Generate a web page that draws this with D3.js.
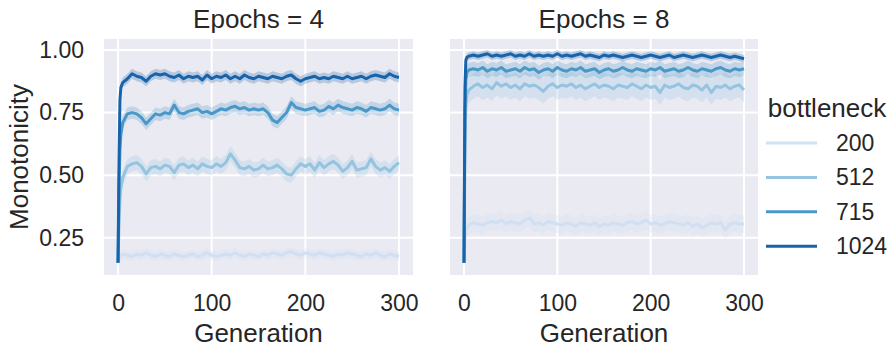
<!DOCTYPE html>
<html>
<head>
<meta charset="utf-8">
<script src="https://cdn.jsdelivr.net/npm/d3@7"></script>
<style>
  body { margin: 0; background: #fff; }
  svg { display: block; font-family: "Liberation Sans", Arial, sans-serif; }
</style>
</head>
<body>
<svg id="chart" width="893" height="349"></svg>
<script>
// values (mean monotonicity per generation)
const generations = [0, 1, 2, 3,
  5, 10, 15, 20, 25, 30, 35, 40, 45, 50,
  55, 60, 65, 70, 75, 80, 85, 90, 95, 100,
  105, 110, 115, 120, 125, 130, 135, 140, 145, 150,
  155, 160, 165, 170, 175, 180, 185, 190, 195, 200,
  205, 210, 215, 220, 225, 230, 235, 240, 245, 250,
  255, 260, 265, 270, 275, 280, 285, 290, 295, 300];

const bottlenecks = ["200", "512", "715", "1024"];
const colors = ["#d0e1f2", "#94c4df", "#4a98c9", "#1764ab"];

const epochs4_200 = [0.15, 0.17, 0.175, 0.18,
  0.185, 0.18, 0.175, 0.185, 0.18, 0.19, 0.18, 0.175, 0.185, 0.18,
  0.175, 0.185, 0.18, 0.175, 0.18, 0.185, 0.175, 0.18, 0.19, 0.18,
  0.175, 0.18, 0.185, 0.18, 0.19, 0.18, 0.175, 0.185, 0.18, 0.175,
  0.185, 0.18, 0.19, 0.185, 0.18, 0.19, 0.195, 0.185, 0.18, 0.19,
  0.185, 0.18, 0.19, 0.185, 0.18, 0.175, 0.185, 0.18, 0.19, 0.185,
  0.18, 0.175, 0.185, 0.18, 0.19, 0.18, 0.175, 0.185, 0.18, 0.175];
const epochs4_512 = [0.15, 0.30, 0.40, 0.45,
  0.49, 0.535, 0.545, 0.55, 0.535, 0.505, 0.53, 0.535, 0.525, 0.54,
  0.535, 0.51, 0.54, 0.545, 0.53, 0.54, 0.525, 0.545, 0.535, 0.53,
  0.545, 0.535, 0.55, 0.585, 0.56, 0.53, 0.525, 0.535, 0.52, 0.525,
  0.54, 0.525, 0.53, 0.54, 0.525, 0.505, 0.50, 0.525, 0.545, 0.535,
  0.545, 0.52, 0.55, 0.53, 0.545, 0.555, 0.54, 0.515, 0.53, 0.555,
  0.52, 0.525, 0.53, 0.565, 0.535, 0.52, 0.53, 0.515, 0.535, 0.55];
const epochs4_715 = [0.15, 0.45, 0.60, 0.66,
  0.71, 0.745, 0.75, 0.745, 0.73, 0.705, 0.725, 0.745, 0.74, 0.75,
  0.745, 0.78, 0.75, 0.745, 0.755, 0.76, 0.765, 0.75, 0.755, 0.745,
  0.755, 0.765, 0.76, 0.77, 0.775, 0.765, 0.77, 0.76, 0.765, 0.76,
  0.765, 0.75, 0.72, 0.71, 0.73, 0.75, 0.79, 0.77, 0.765, 0.76,
  0.765, 0.77, 0.755, 0.76, 0.775, 0.765, 0.78, 0.77, 0.765, 0.76,
  0.77, 0.765, 0.755, 0.77, 0.765, 0.76, 0.765, 0.78, 0.765, 0.76];
const epochs4_1024 = [0.15, 0.55, 0.80, 0.85,
  0.87, 0.885, 0.905, 0.895, 0.89, 0.875, 0.895, 0.905, 0.90, 0.905,
  0.895, 0.89, 0.90, 0.885, 0.895, 0.89, 0.895, 0.88, 0.90, 0.885,
  0.895, 0.89, 0.90, 0.885, 0.895, 0.885, 0.90, 0.89, 0.885, 0.895,
  0.89, 0.885, 0.895, 0.89, 0.885, 0.895, 0.90, 0.885, 0.875, 0.885,
  0.89, 0.895, 0.885, 0.89, 0.885, 0.895, 0.89, 0.885, 0.895, 0.885,
  0.89, 0.895, 0.885, 0.895, 0.90, 0.895, 0.89, 0.905, 0.895, 0.89];

const epochs8_200 = [0.15, 0.25, 0.28, 0.29,
  0.30, 0.31, 0.305, 0.30, 0.31, 0.315, 0.31, 0.32, 0.305, 0.315,
  0.31, 0.305, 0.32, 0.33, 0.305, 0.31, 0.30, 0.315, 0.31, 0.305,
  0.30, 0.31, 0.305, 0.295, 0.31, 0.305, 0.30, 0.31, 0.295, 0.305,
  0.30, 0.31, 0.305, 0.30, 0.31, 0.315, 0.305, 0.31, 0.32, 0.305,
  0.31, 0.30, 0.305, 0.315, 0.31, 0.305, 0.30, 0.31, 0.295, 0.305,
  0.29, 0.30, 0.31, 0.305, 0.31, 0.28, 0.305, 0.31, 0.305, 0.305];
const epochs8_512 = [0.15, 0.62, 0.78, 0.82,
  0.84, 0.855, 0.865, 0.85, 0.86, 0.845, 0.87, 0.855, 0.865, 0.85,
  0.86, 0.845, 0.865, 0.855, 0.86, 0.85, 0.835, 0.855, 0.865, 0.85,
  0.86, 0.855, 0.865, 0.85, 0.86, 0.845, 0.855, 0.865, 0.85, 0.86,
  0.855, 0.845, 0.86, 0.855, 0.85, 0.865, 0.855, 0.845, 0.86, 0.85,
  0.855, 0.83, 0.86, 0.85, 0.855, 0.865, 0.85, 0.845, 0.86, 0.855,
  0.84, 0.86, 0.83, 0.855, 0.85, 0.86, 0.845, 0.855, 0.86, 0.84];
const epochs8_715 = [0.15, 0.75, 0.88, 0.91,
  0.92, 0.925, 0.92, 0.93, 0.915, 0.925, 0.92, 0.93, 0.915, 0.92,
  0.925, 0.915, 0.93, 0.92, 0.925, 0.91, 0.92, 0.925, 0.915, 0.93,
  0.92, 0.915, 0.925, 0.92, 0.93, 0.915, 0.92, 0.925, 0.91, 0.92,
  0.925, 0.915, 0.92, 0.93, 0.92, 0.915, 0.925, 0.92, 0.915, 0.925,
  0.92, 0.93, 0.915, 0.92, 0.925, 0.915, 0.92, 0.93, 0.92, 0.915,
  0.925, 0.92, 0.915, 0.925, 0.93, 0.92, 0.915, 0.925, 0.92, 0.925];
const epochs8_1024 = [0.15, 0.85, 0.96, 0.97,
  0.975, 0.98, 0.975, 0.98, 0.985, 0.975, 0.98, 0.975, 0.98, 0.985,
  0.975, 0.98, 0.975, 0.985, 0.975, 0.98, 0.975, 0.98, 0.975, 0.985,
  0.975, 0.98, 0.975, 0.98, 0.985, 0.975, 0.98, 0.975, 0.97, 0.98,
  0.975, 0.98, 0.975, 0.97, 0.975, 0.98, 0.975, 0.97, 0.975, 0.98,
  0.975, 0.97, 0.975, 0.98, 0.97, 0.975, 0.98, 0.975, 0.97, 0.975,
  0.98, 0.975, 0.97, 0.975, 0.98, 0.975, 0.97, 0.975, 0.97, 0.965];

// half width of the confidence band, per bottleneck
const epochs4_ci = [0.018, 0.03, 0.025, 0.02];
const epochs8_ci = [0.035, 0.05, 0.028, 0.015];

const xTicks = [0, 100, 200, 300];
const yTicks = [0.25, 0.5, 0.75, 1.0];

const panels = [
  { title: "Epochs = 4", series: [epochs4_200, epochs4_512, epochs4_715, epochs4_1024], ci: epochs4_ci, x0: 104, x1: 413, labels: true },
  { title: "Epochs = 8", series: [epochs8_200, epochs8_512, epochs8_715, epochs8_1024], ci: epochs8_ci, x0: 450, x1: 758, labels: false },
];

const textColor = "#262626";
const plotTop = 39, plotBottom = 275;

const svg = d3.select("svg#chart");

const y = d3.scaleLinear().domain([0.101, 1.044]).range([plotBottom, plotTop]);

for (const p of panels) {
  const x = d3.scaleLinear().domain([-15, 315]).range([p.x0, p.x1]);
  const g = svg.append("g");

  g.append("rect")
    .attr("x", p.x0).attr("y", plotTop)
    .attr("width", p.x1 - p.x0).attr("height", plotBottom - plotTop)
    .attr("fill", "#eaeaf2");

  // grid
  g.append("g").selectAll("line").data(yTicks).join("line")
    .attr("x1", p.x0).attr("x2", p.x1)
    .attr("y1", (d) => y(d)).attr("y2", (d) => y(d))
    .attr("stroke", "#fff").attr("stroke-width", 2);
  g.append("g").selectAll("line").data(xTicks).join("line")
    .attr("y1", plotTop).attr("y2", plotBottom)
    .attr("x1", (d) => x(d)).attr("x2", (d) => x(d))
    .attr("stroke", "#fff").attr("stroke-width", 2);

  // lines then bands, in hue order like seaborn
  p.series.forEach((vals, i) => {
    const pts = generations.map((gen, j) => ({ gen, v: vals[j] }));
    const ci = p.ci[i];
    g.append("path")
      .datum(pts)
      .attr("fill", "none")
      .attr("stroke", colors[i])
      .attr("stroke-width", 3)
      .attr("stroke-linejoin", "round")
      .attr("d", d3.line().x((d) => x(d.gen)).y((d) => y(d.v)));
    g.append("path")
      .datum(pts.slice(1))
      .attr("fill", colors[i])
      .attr("fill-opacity", 0.25)
      .attr("d", d3.area().x((d) => x(d.gen)).y0((d) => y(d.v - ci)).y1((d) => y(d.v + ci)));
  });

  // axes
  const xAxis = g.append("g")
    .attr("transform", `translate(0, ${plotBottom})`)
    .call(d3.axisBottom(x).tickValues(xTicks).tickSize(0).tickPadding(20));
  xAxis.select(".domain").remove();
  xAxis.selectAll("text").attr("font-size", 23).attr("fill", textColor);

  if (p.labels) {
    const yAxis = g.append("g")
      .attr("transform", `translate(${p.x0}, 0)`)
      .call(d3.axisLeft(y).tickValues(yTicks).tickFormat(d3.format(".2f")).tickSize(0).tickPadding(20));
    yAxis.select(".domain").remove();
    yAxis.selectAll("text").attr("font-size", 23).attr("fill", textColor);
  }

  g.append("text")
    .attr("x", (p.x0 + p.x1) / 2).attr("y", 28)
    .attr("text-anchor", "middle")
    .attr("font-size", 26).attr("fill", textColor)
    .text(p.title);

  g.append("text")
    .attr("x", (p.x0 + p.x1) / 2).attr("y", 342)
    .attr("text-anchor", "middle")
    .attr("font-size", 26).attr("fill", textColor)
    .text("Generation");
}

svg.append("text")
  .attr("transform", `translate(28, ${(plotTop + plotBottom) / 2}) rotate(-90)`)
  .attr("text-anchor", "middle")
  .attr("font-size", 26).attr("fill", textColor)
  .text("Monotonicity");

// legend
const legend = svg.append("g");
legend.append("text")
  .attr("x", 827).attr("y", 117)
  .attr("text-anchor", "middle")
  .attr("font-size", 26).attr("fill", textColor)
  .text("bottleneck");
const rows = legend.selectAll("g.row").data(bottlenecks).join("g")
  .attr("class", "row")
  .attr("transform", (_d, i) => `translate(0, ${143 + i * 34.4})`);
rows.append("line")
  .attr("x1", 766).attr("x2", 817)
  .attr("stroke", (_d, i) => colors[i])
  .attr("stroke-width", 3);
rows.append("text")
  .attr("x", 836).attr("dy", "0.35em")
  .attr("font-size", 23).attr("fill", textColor)
  .text((d) => d);
</script>
</body>
</html>
